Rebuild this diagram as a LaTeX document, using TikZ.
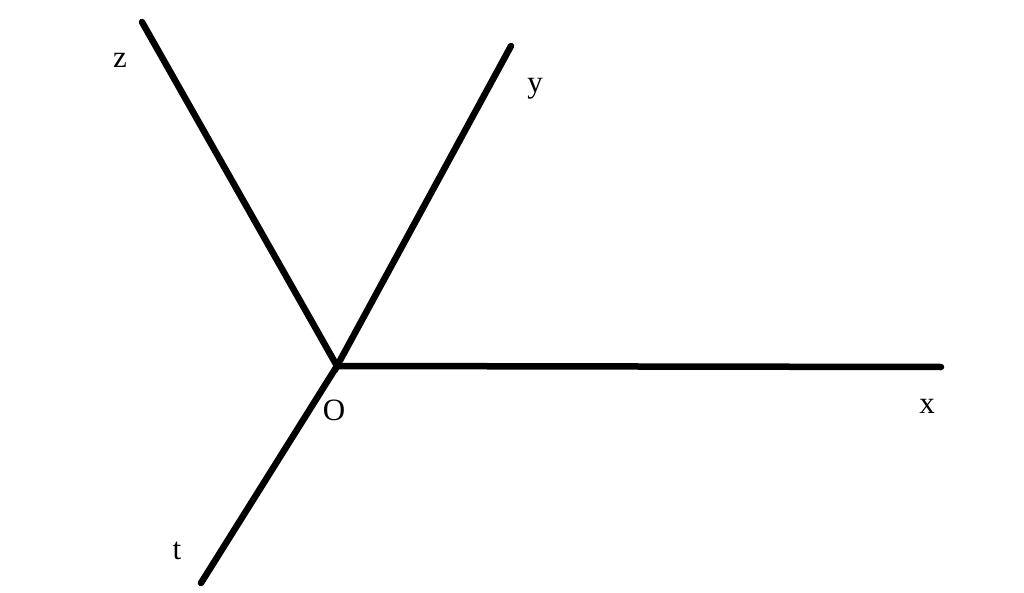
\documentclass[tikz,border=0pt]{standalone}
\usepackage{fontspec}
\setmainfont{Liberation Serif}
\begin{document}
\begin{tikzpicture}[x=1pt,y=-1pt,
  axis/.style={line width=6.5pt,line cap=round,black},
  lbl/.style={anchor=base,inner sep=0pt,font=\fontsize{31}{31}\selectfont}]
\useasboundingbox (0,0) rectangle (1024,593);
\coordinate (O) at (337,366);
\coordinate (Z) at (142,22);
\coordinate (Y) at (511,46);
\coordinate (X) at (941,367);
\coordinate (T) at (201,583);
\draw[axis] (Z) -- (O) -- (Y);
\draw[axis] (O) -- (X);
\draw[axis] (O) -- (T);
\node[lbl] (lz) at (120,68) {z};
\node[lbl] (ly) at (535,93) {y};
\node[lbl] (lx) at (927,413) {x};
\node[lbl] (lo) at (334,420) {O};
\node[lbl] (lt) at (177,559) {t};
\end{tikzpicture}
\end{document}
